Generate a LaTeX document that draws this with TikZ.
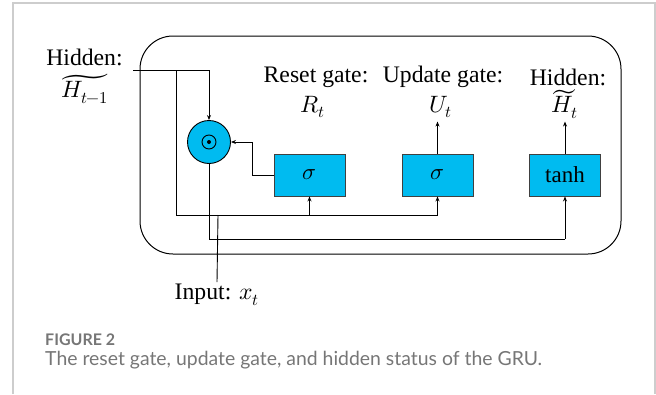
\documentclass[tikz,border=0pt]{standalone}
\usepackage{fontspec}
\usepackage{unicode-math}
\setmainfont{Liberation Serif}
\setmathfont{Latin Modern Math}
\newfontfamily\capfont{Lato}
\usetikzlibrary{arrows.meta,calc}
\definecolor{gatefill}{RGB}{0,187,240}
\definecolor{capgray}{RGB}{118,118,118}
\definecolor{framegray}{RGB}{205,205,205}
\tikzset{
  wire/.style={line width=0.9pt,draw=black},
  arr/.style={wire,-{Stealth[length=5pt,width=4pt]}},
  gatebox/.style={draw=black!75,line width=0.9pt,fill=gatefill,minimum width=71pt,minimum height=42pt,inner sep=0pt,font=\fontsize{23}{25}\selectfont},
  lbl/.style={inner sep=0pt,font=\fontsize{23.7}{26}\selectfont},
}
\begin{document}
\begin{tikzpicture}[x=1pt,y=-1pt]
\useasboundingbox (0,0) rectangle (656,394);
% outer card frame
\draw[framegray,line width=1.2pt] (13,394) -- (13,3) -- (655,3) -- (655,394);
% rounded cell
\draw[line width=1pt,rounded corners=33pt] (140,36) rectangle (621,254);
% gates
\node[circle,draw=black,line width=0.9pt,fill=gatefill,minimum size=43pt,inner sep=0pt] (m) at (209,142) {};
\draw[line width=0.9pt] (m.center) circle (7pt);
\fill (m.center) circle (2pt);
\node[gatebox] (r) at (309.5,175) {$\sigma$};
\node[gatebox] (u) at (437.5,175) {$\sigma$};
\node[gatebox] (h) at (565,175) {tanh};
% labels
\node[lbl] (hin) at (84.5,57) {Hidden:};
\node[lbl] (hinm) at (85,89) {$\widetilde{H_{t-1}}$};
\node[lbl] (rl) at (316,77) {Reset gate:};
\node[lbl] (rlm) at (313,107) {$R_t$};
\node[lbl] (ul) at (443,77) {Update gate:};
\node[lbl] (ulm) at (441,107) {$U_t$};
\node[lbl] (hl) at (568,77) {Hidden:};
\node[lbl] (hlm) at (565,104) {$\widetilde{H_t}$};
\node[lbl] (inp) at (217,295) {Input: $x_t$};
% coordinates
\coordinate (hs) at (133,70);
\coordinate (hc) at (209,70);
\coordinate (hb) at (176,70);
\coordinate (jb) at (176,215);
\coordinate (ju) at (437.5,215);
\coordinate (jr) at (309.5,215);
\coordinate (ji) at (218,215);
\coordinate (lm) at (209,239);
\coordinate (lh) at (565,239);
\coordinate (rk) at (252,175);
% wires
\draw[arr] (hs) -- (hc) -- (m.north);
\draw[wire] (hb) -- (jb) -- (ju);
\draw[arr] (ju) -- (u.south);
\draw[arr] (jr) -- (r.south);
\draw[wire] (inp.north) ++(0,-2) -- (ji);
\draw[wire] (m.south) -- (lm) -- (lh);
\draw[arr] (lh) -- (h.south);
\draw[arr] (r.west) -- (rk) |- (m.east);
\draw[arr] (u.north) -- ($(u.north)+(0,-32)$) coordinate (ut);
\draw[arr] (h.north) -- ($(h.north)+(0,-32)$) coordinate (ht);
% caption
\node[anchor=base west,inner sep=0pt,text=capgray,font=\capfont\bfseries\fontsize{16}{18}\selectfont] (fig) at (45,345) {FIGURE 2};
\node[anchor=base west,inner sep=0pt,text=capgray,font=\capfont\fontsize{19.4}{22}\selectfont] (cap) at (45,365) {The reset gate, update gate, and hidden status of the GRU.};
\end{tikzpicture}
\end{document}
